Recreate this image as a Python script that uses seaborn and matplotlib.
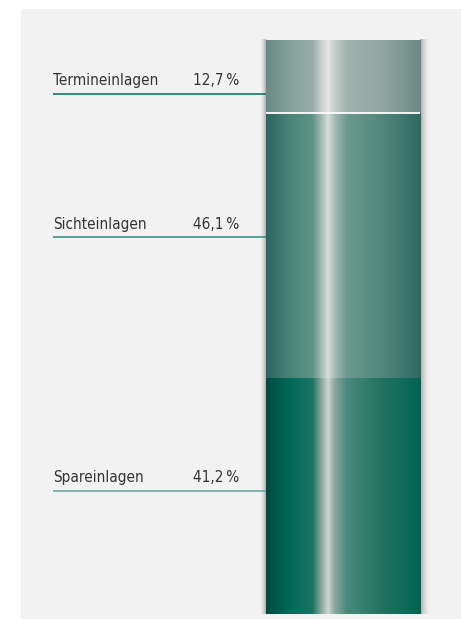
import numpy as np
import matplotlib
matplotlib.use("Agg")
import matplotlib.pyplot as plt
from matplotlib.colors import LinearSegmentedColormap
import seaborn as sns

# Deposit structure (shares in percent), listed top to bottom
categories = ["Termineinlagen", "Sichteinlagen", "Spareinlagen"]
shares = [12.7, 46.1, 41.2]
value_labels = ["12,7\u2009%", "46,1\u2009%", "41,2\u2009%"]

sns.set_theme(style="white")
plt.rcParams["font.family"] = ["DejaVu Sans"]
plt.rcParams["font.stretch"] = "condensed"

# Metallic horizontal shading for each segment (top to bottom)
shade_stops = [
    ["#6a8a86", "#85a19b", "#98ada8", "#c8d2d0", "#e2e6e5", "#c5d0cd", "#a2b3ae", "#90a6a0", "#6c8a86"],
    ["#2a6660", "#4b8478", "#5e9485", "#a8bcb6", "#d7dedc", "#a9bdb7", "#6a9a8e", "#52877b", "#306963"],
    ["#004a3d", "#00695a", "#1c7564", "#90aaa3", "#cdd6d3", "#8fa9a1", "#4a8a7d", "#22725f", "#006552"],
]
stop_pos = [0.0, 0.15, 0.30, 0.36, 0.40, 0.44, 0.52, 0.75, 1.0]
line_colors = ["#006e5c", "#2f8a7f", "#5aa49a"]
label_frac = [0.26, 0.53, 0.52]  # where the leader line sits within each segment

fig = plt.figure(figsize=(4.61, 6.19), dpi=100, facecolor="white")
ax = fig.add_axes([21 / 461, 0, 440 / 461, 610 / 619])
ax.set_facecolor("#f2f2f2")

# Stack from the bottom: cumulative tops for each segment
order = list(range(len(categories)))[::-1]  # bottom first
bottoms, tops = {}, {}
run = 0.0
for i in order:
    bottoms[i] = run
    run += shares[i]
    tops[i] = run

bar_w = 0.8
x0, x1 = -bar_w / 2, bar_w / 2

# Soft shadow around the column
total = run
sh_left = np.zeros((1, 60, 4))
sh_left[..., :3] = 0.35
sh_left[0, :, 3] = np.linspace(0, 1, 60) ** 2 * 0.45
ax.imshow(sh_left, extent=(x0 - 0.035, x0, 0, total), aspect="auto", zorder=1, interpolation="bilinear")
sh_right = np.zeros((1, 60, 4))
sh_right[..., :3] = 0.35
sh_right[0, :, 3] = np.linspace(1, 0, 60) ** 2 * 0.5
ax.imshow(sh_right, extent=(x1, x1 + 0.055, 0, total), aspect="auto", zorder=1, interpolation="bilinear")

# Draw tallest cumulative bar first so each lower segment overlays it
for z, i in enumerate(sorted(order, key=lambda k: -tops[k])):
    sns.barplot(x=["Einlagen"], y=[tops[i]], width=bar_w, color=shade_stops[i][0],
                linewidth=0, ax=ax, zorder=2 + 2 * z)
    patch = ax.patches[-1]
    cmap = LinearSegmentedColormap.from_list(f"shade{i}", list(zip(stop_pos, shade_stops[i])))
    grad = cmap(np.linspace(0, 1, 400))[None, :, :]
    im = ax.imshow(grad, extent=(x0, x1, 0, tops[i]), aspect="auto",
                   interpolation="bilinear", zorder=3 + 2 * z)
    im.set_clip_path(patch)

# Thin white separator under the top segment
ax.hlines(tops[order[1]], x0, x1, color="white", lw=1.3, zorder=20)

# Leader lines and labels
lx0 = -1.5065
vx = -0.779
for i, name in enumerate(categories):
    y = bottoms[i] + label_frac[i] * shares[i]
    ax.hlines(y, lx0, x0, color=line_colors[i], lw=1.1, zorder=15)
    ax.annotate(name, (lx0, y), xytext=(0, 4), textcoords="offset points",
                ha="left", va="bottom", fontsize=11, color="#333333", zorder=16)
    ax.annotate(value_labels[i], (vx, y), xytext=(0, 4), textcoords="offset points",
                ha="left", va="bottom", fontsize=11, color="#333333", zorder=16)

ax.set_xlim(-1.6727, 0.613)
ax.set_ylim(-0.871, 105.40)
ax.set_xticks([])
ax.set_yticks([])
ax.set_xlabel("")
ax.set_ylabel("")
for s in ax.spines.values():
    s.set_visible(False)

fig.savefig("out.png", dpi=100, facecolor="white")
